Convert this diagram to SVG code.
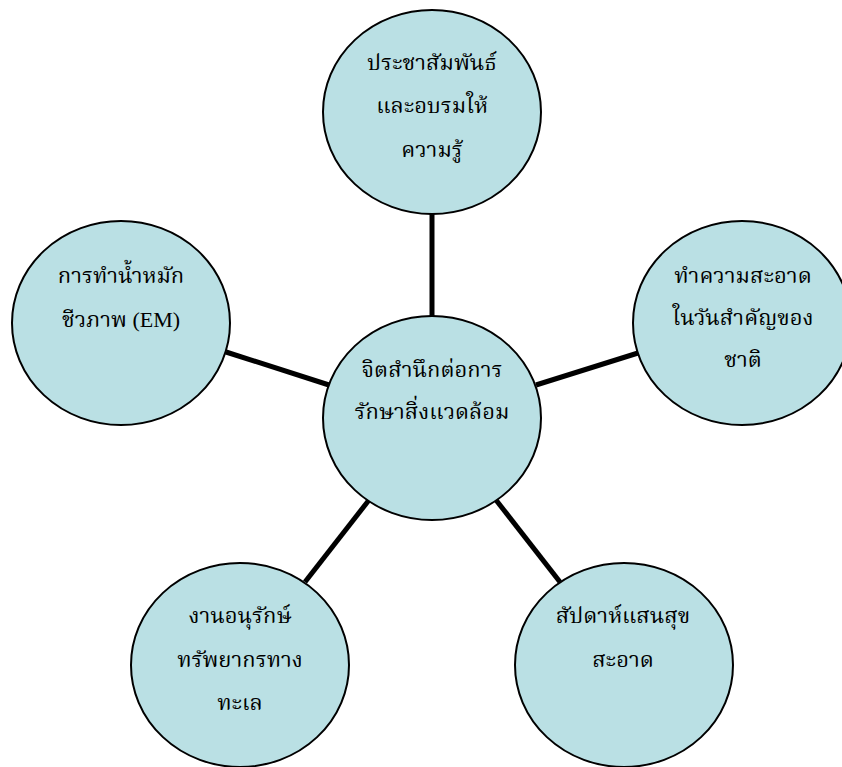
<svg xmlns="http://www.w3.org/2000/svg" width="842" height="767" viewBox="0 0 842 767">
<style>
.n ellipse{fill:#BAE0E4;stroke:#000;stroke-width:2}
.n text{font-family:"Liberation Serif","Noto Serif Thai","Noto Sans Thai",serif;font-size:22px;fill:#000;text-anchor:middle}
.c line{stroke:#000;stroke-width:5}
</style>
<rect width="842" height="767" fill="#fff"/>
<g id="connectors" class="c">
<line x1="432" y1="214" x2="432" y2="316"/>
<line x1="226" y1="352" x2="329" y2="385"/>
<line x1="536" y1="385" x2="638" y2="353"/>
<line x1="369" y1="500" x2="305" y2="582"/>
<line x1="496" y1="500" x2="560" y2="582"/>
</g>
<g id="top" class="n">
<ellipse cx="432" cy="112" rx="109" ry="102"/>
<text x="432" y="70">ประชาสัมพันธ์</text>
<text x="432" y="113">และอบรมให้</text>
<text x="432" y="157">ความรู้</text>
</g>
<g id="center" class="n">
<ellipse cx="432" cy="418" rx="109" ry="102"/>
<text x="432" y="377">จิตสำนึกต่อการ</text>
<text x="432" y="419">รักษาสิ่งแวดล้อม</text>
</g>
<g id="left" class="n">
<ellipse cx="121" cy="323" rx="109" ry="102"/>
<text x="121" y="283">การทำน้ำหมัก</text>
<text x="121" y="327">ชีวภาพ (EM)</text>
</g>
<g id="right" class="n">
<ellipse cx="742" cy="323" rx="109" ry="102"/>
<text x="743" y="283">ทำความสะอาด</text>
<text x="743" y="325">ในวันสำคัญของ</text>
<text x="743" y="367">ชาติ</text>
</g>
<g id="bottom-left" class="n">
<ellipse cx="240" cy="665" rx="109" ry="102"/>
<text x="240" y="623">งานอนุรักษ์</text>
<text x="240" y="667">ทรัพยากรทาง</text>
<text x="240" y="710">ทะเล</text>
</g>
<g id="bottom-right" class="n">
<ellipse cx="624" cy="665" rx="109" ry="102"/>
<text x="623" y="623">สัปดาห์แสนสุข</text>
<text x="623" y="667">สะอาด</text>
</g>
</svg>
